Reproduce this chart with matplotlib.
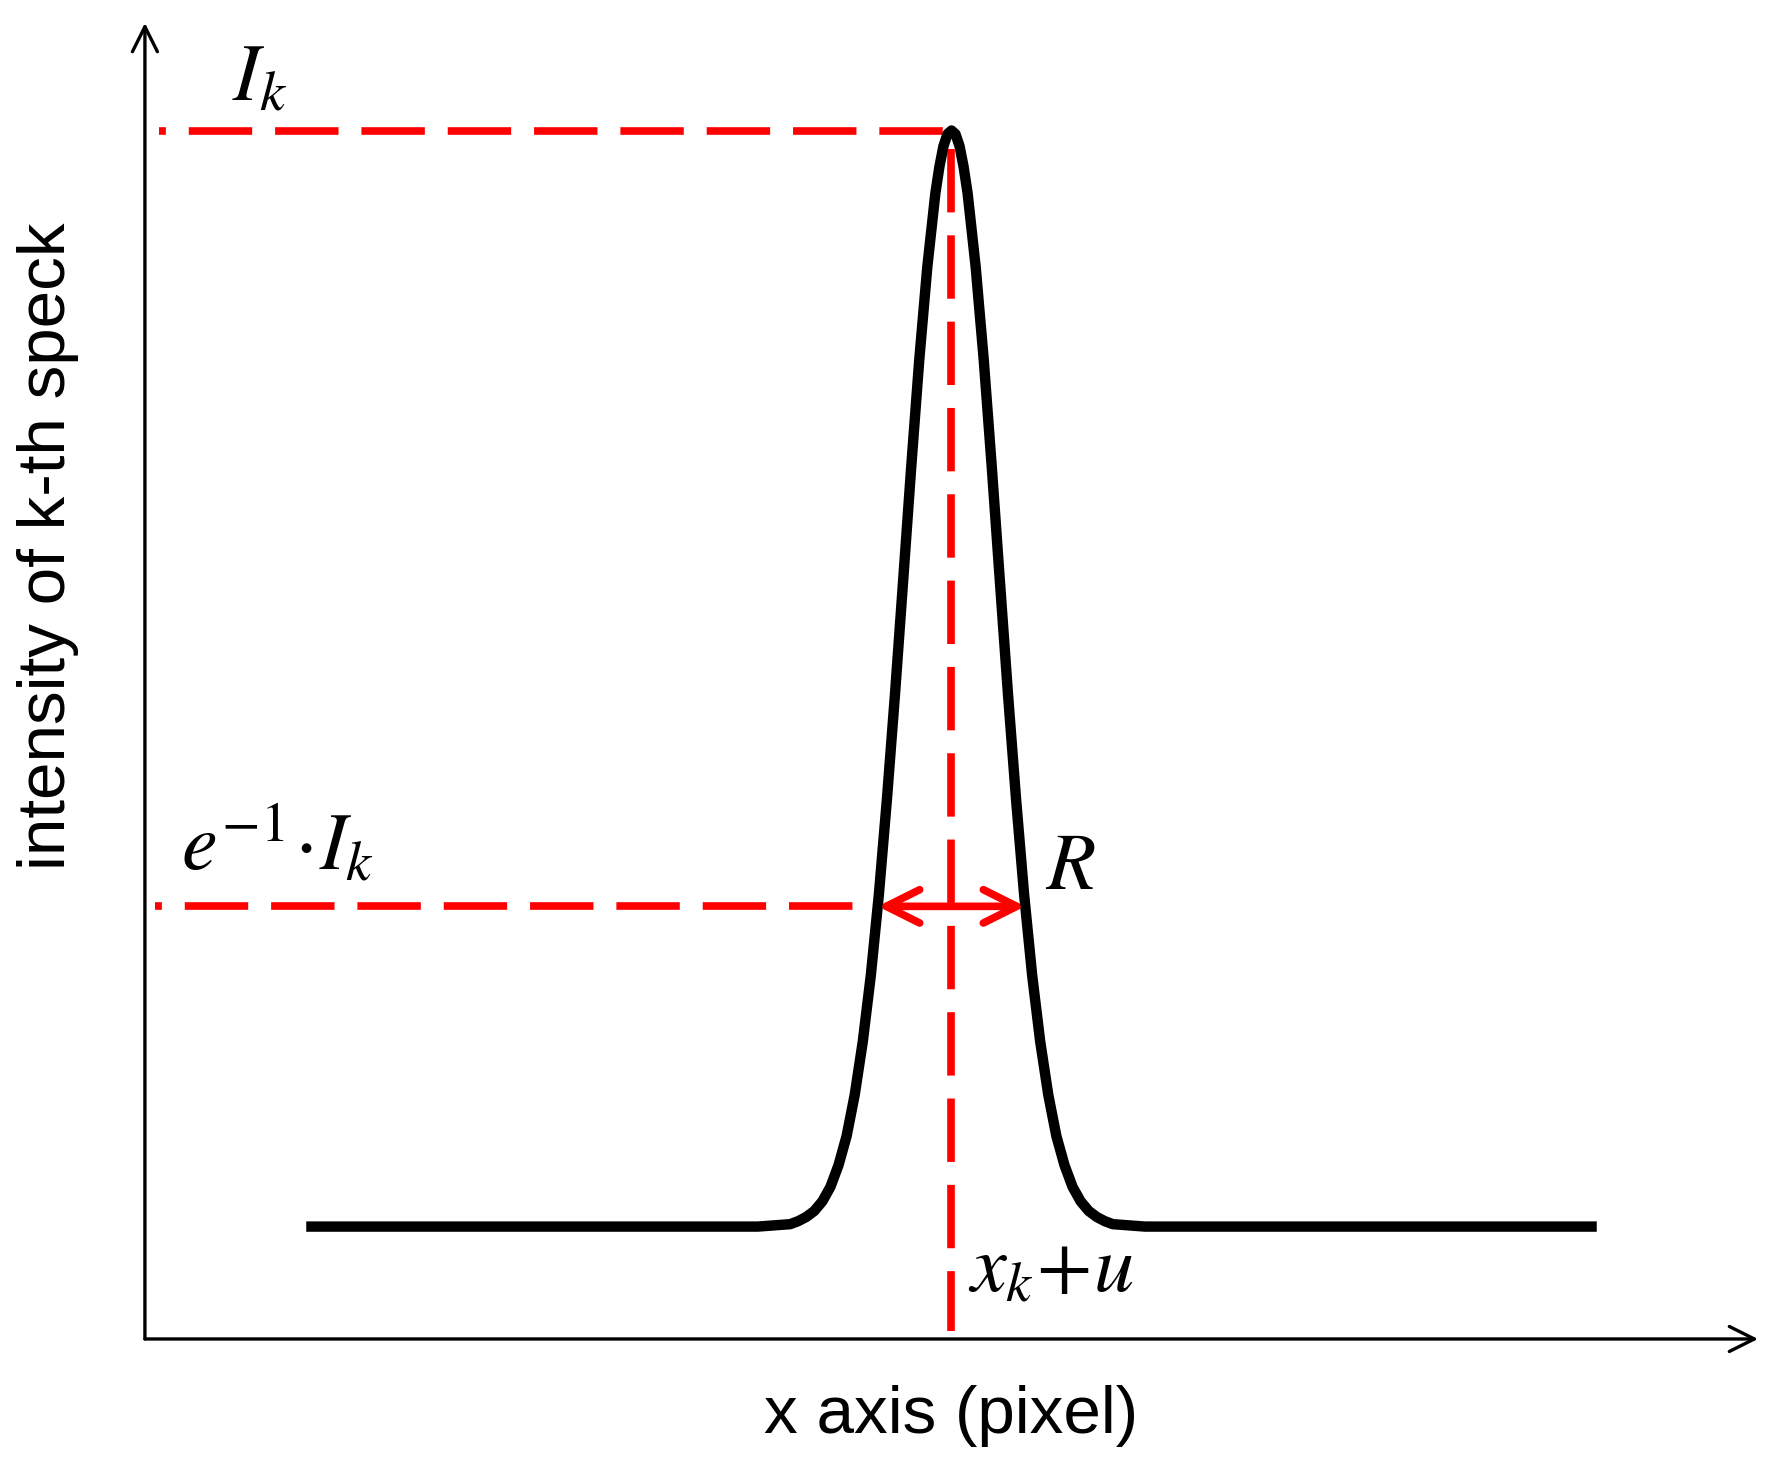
import matplotlib.pyplot as plt

# ----------------------------------------------------------------------
#   Data read off the schematic
# ----------------------------------------------------------------------

# speck intensity profile along the x axis (pixel units, arbitrary)
curve_x = [10, 38, 39, 40, 40.5, 41, 41.5, 42, 42.5, 43, 43.5, 44, 44.5, 45, 45.5, 46, 46.5,
           47, 47.5, 48, 48.5, 49, 49.25, 49.5, 49.75, 50,
           50.25, 50.5, 50.75, 51, 51.5, 52, 52.5, 53, 53.5, 54, 54.5, 55, 55.5,
           56, 56.5, 57, 57.5, 58, 58.5, 59, 59.5, 60, 61, 62, 90]
curve_y = [0.093, 0.093, 0.094, 0.095, 0.0975, 0.101, 0.106, 0.114, 0.126, 0.144, 0.168, 0.202, 0.246, 0.301, 0.368, 0.447, 0.534,
           0.627, 0.721, 0.810, 0.887, 0.948, 0.970, 0.987, 0.997, 1.000,
           0.997, 0.987, 0.970, 0.948, 0.887, 0.810, 0.721, 0.627, 0.534, 0.447, 0.368, 0.301, 0.246,
           0.202, 0.168, 0.144, 0.126, 0.114, 0.106, 0.101, 0.0975, 0.095, 0.094, 0.093, 0.093]

peak_x     = 50.0    # x_k + u
peak_I     = 1.0     # I_k
level_I    = 0.358   # e^-1 * I_k
r_left     = 45.43   # curve crossing at e^-1 level
r_right    = 54.57

# ----------------------------------------------------------------------
#   Plot
# ----------------------------------------------------------------------
plt.rcParams['mathtext.fontset'] = 'stix'

fig = plt.figure(figsize=(17.76, 14.81), dpi=100)
ax = fig.add_axes([0.0816, 0.0959, 0.9083, 0.8886])
ax.set_xlim(0, 100)
ax.set_ylim(0, 1.089)
ax.axis('off')

red = '#ff0000'
red_lw = 5.5
dash = (7.4, (8.3, 3.0))

# axes with open arrow heads
ax.annotate('', xy=(0, 1.089), xytext=(0, 0), xycoords='data',
            arrowprops=dict(arrowstyle='->', lw=2.4, color='black',
                            mutation_scale=45, shrinkA=0, shrinkB=0))
ax.annotate('', xy=(100, 0), xytext=(0, 0), xycoords='data',
            arrowprops=dict(arrowstyle='->', lw=2.4, color='black',
                            mutation_scale=45, shrinkA=0, shrinkB=0))

# guide lines
ax.plot([0.85, peak_x], [peak_I, peak_I], color=red, lw=red_lw,
        linestyle=dash, dash_capstyle='butt', zorder=2)
ax.plot([0.65, r_left], [level_I, level_I], color=red, lw=red_lw,
        linestyle=dash, dash_capstyle='butt', zorder=2)
ax.plot([peak_x, peak_x], [0.985, 0.007], color=red, lw=red_lw,
        linestyle=(0, (8.3, 3.0)), dash_capstyle='butt', zorder=2)

# intensity profile
ax.plot(curve_x, curve_y, color='black', lw=7.5, solid_capstyle='butt',
        solid_joinstyle='round', zorder=3)

# R arrow
ax.annotate('', xy=(r_right, level_I), xytext=(r_left, level_I),
            arrowprops=dict(arrowstyle='<->', lw=red_lw, color=red,
                            mutation_scale=60, shrinkA=0, shrinkB=0,
                            capstyle='round', joinstyle='round'), zorder=4)

# labels
ax.text(5.4, 1.025, r'$I_k$', fontsize=58, ha='left', va='baseline')
ax.text(2.25, 0.388, r'$e^{-1}\!\cdot\! I_k$', fontsize=58, ha='left', va='baseline')
ax.text(55.8, 0.372, r'$R$', fontsize=58, ha='left', va='baseline')
ax.text(51.05, 0.039, r'$x_k\!+\!u$', fontsize=58, ha='left', va='baseline')

fig.text(951 / 1776, 1 - 1416 / 1481, 'x axis (pixel)', fontsize=48.5,
         family='Liberation Sans', ha='center', va='center')
fig.text(48 / 1776, 1 - 546 / 1481, 'intensity of k-th speck', fontsize=48.5,
         family='Liberation Sans', ha='center', va='center', rotation=90)

fig.savefig('out.png', dpi=100)
